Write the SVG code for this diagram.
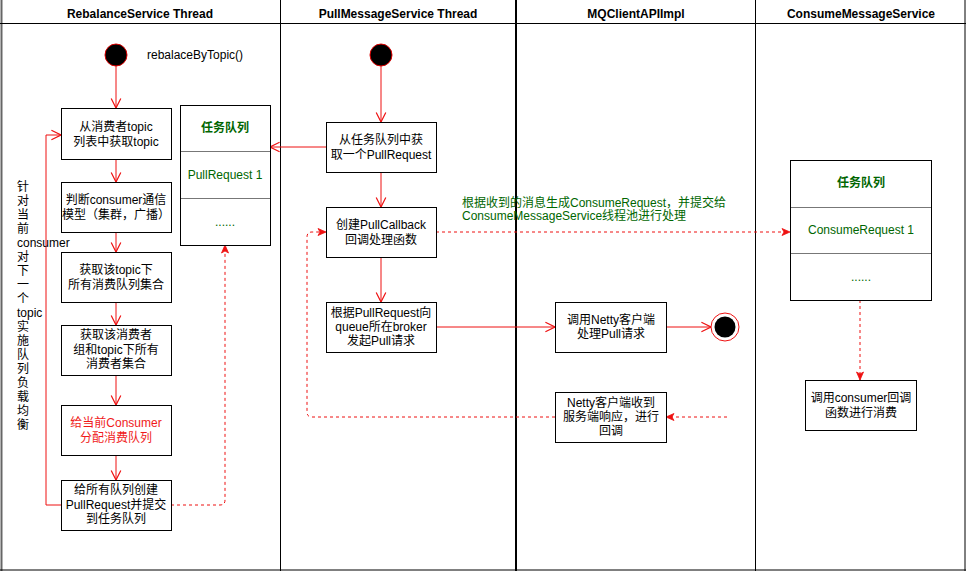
<svg xmlns="http://www.w3.org/2000/svg" width="966" height="571" viewBox="0 0 966 571">
  <style>
    text { font-family: "Liberation Sans", "Noto Sans CJK SC", sans-serif; font-size: 12px; fill: #000; }
    .hd { font-weight: bold; text-anchor: middle; }
    .c { text-anchor: middle; }
    .g { fill: #006600; }
    .b { font-weight: bold; }
    .red { fill: #f01a1a; }
    .box { fill: #fff; stroke: #000; stroke-width: 1; }
    .sep { stroke: #777; stroke-width: 1; fill: none; }
    .lane { stroke: #000; stroke-width: 1; fill: none; }
    .flow { stroke: #ee1111; stroke-width: 1; fill: none; }
    .dash { stroke: #ee1111; stroke-width: 1; fill: none; stroke-dasharray: 3 3; }
  </style>
  <defs>
    <marker id="open" markerUnits="userSpaceOnUse" markerWidth="12" markerHeight="12" viewBox="0 0 10 10" refX="9" refY="5" orient="auto">
      <path d="M1,1 L9,5 L1,9" fill="none" stroke="#ee1111" stroke-width="1"/>
    </marker>
    <marker id="solid" markerUnits="userSpaceOnUse" markerWidth="10" markerHeight="10" viewBox="0 0 10 10" refX="9" refY="5" orient="auto">
      <path d="M1,1.5 L9,5 L1,8.5 L3,5 z" fill="#ee1111" stroke="#ee1111" stroke-width="0.8"/>
    </marker>
  </defs>

  <rect width="966" height="571" fill="#fff"/>

  <!-- swimlanes -->
  <g id="lanes">
    <line x1="1.5" y1="0" x2="1.5" y2="571" stroke="#666" stroke-width="2"/>
    <line class="lane" x1="965" y1="0" x2="965" y2="571"/>
    <line class="lane" x1="0" y1="570" x2="966" y2="570"/>
    <line class="lane" x1="0" y1="23.5" x2="966" y2="23.5"/>
    <line class="lane" x1="280.5" y1="0" x2="280.5" y2="571"/>
    <line x1="516" y1="0" x2="516" y2="571" stroke="#000" stroke-width="2"/>
    <line class="lane" x1="755.5" y1="0" x2="755.5" y2="571"/>
    <text class="hd" x="140" y="18">RebalanceService Thread</text>
    <text class="hd" x="398" y="18">PullMessageService Thread</text>
    <text class="hd" x="636" y="18">MQClientAPIImpl</text>
    <text class="hd" x="861" y="18">ConsumeMessageService</text>
  </g>

  <!-- connectors -->
  <g id="connectors">
    <line class="flow" x1="116" y1="66" x2="116" y2="108" marker-end="url(#open)"/>
    <line class="flow" x1="116" y1="160" x2="116" y2="182" marker-end="url(#open)"/>
    <line class="flow" x1="116" y1="232" x2="116" y2="252" marker-end="url(#open)"/>
    <line class="flow" x1="116" y1="302" x2="116" y2="325" marker-end="url(#open)"/>
    <line class="flow" x1="116" y1="375" x2="116" y2="405" marker-end="url(#open)"/>
    <line class="flow" x1="116" y1="455" x2="116" y2="480" marker-end="url(#open)"/>
    <path class="flow" d="M61,505 H46 V135 H61" marker-end="url(#open)"/>
    <path class="dash" d="M171,505 H220 Q225,505 225,500 V245" marker-end="url(#solid)"/>
    <line class="flow" x1="381" y1="66" x2="381" y2="122" marker-end="url(#open)"/>
    <line class="flow" x1="326" y1="147" x2="270" y2="147" marker-end="url(#open)"/>
    <line class="flow" x1="381" y1="172" x2="381" y2="207" marker-end="url(#open)"/>
    <line class="flow" x1="381" y1="257" x2="381" y2="302" marker-end="url(#open)"/>
    <line class="flow" x1="436" y1="327" x2="555" y2="327" marker-end="url(#open)"/>
    <line class="flow" x1="666" y1="327" x2="711" y2="327" marker-end="url(#open)"/>
    <line class="dash" x1="436" y1="232" x2="790" y2="232" marker-end="url(#solid)"/>
    <line class="dash" x1="727" y1="417" x2="666" y2="417" marker-end="url(#solid)"/>
    <path class="dash" d="M555,417 H312 Q307,417 307,412 V237 Q307,232 312,232 H326" marker-end="url(#solid)"/>
    <line class="dash" x1="860" y1="300" x2="860" y2="380" marker-end="url(#solid)"/>
    <text class="g" x="462" y="207">根据收到的消息生成ConsumeRequest，并提交给</text>
    <text class="g" x="462" y="220">ConsumeMessageService线程池进行处理</text>
  </g>

  <!-- RebalanceService lane -->
  <g id="start-rebalance">
    <circle cx="116" cy="55" r="11" fill="#000" stroke="#d00" stroke-width="1"/>
    <text x="147" y="59">rebalaceByTopic()</text>
  </g>
  <g id="loop-label">
    <text x="17" y="191">针</text>
    <text x="17" y="205">对</text>
    <text x="17" y="219">当</text>
    <text x="17" y="233">前</text>
    <text x="17" y="247">consumer</text>
    <text x="17" y="261">对</text>
    <text x="17" y="275">下</text>
    <text x="17" y="289">一</text>
    <text x="17" y="303">个</text>
    <text x="17" y="317">topic</text>
    <text x="17" y="331">实</text>
    <text x="17" y="345">施</text>
    <text x="17" y="359">队</text>
    <text x="17" y="373">列</text>
    <text x="17" y="387">负</text>
    <text x="17" y="401">载</text>
    <text x="17" y="415">均</text>
    <text x="17" y="429">衡</text>
  </g>
  <g id="get-topics">
    <rect class="box" x="61.5" y="108.5" width="110" height="51"/>
    <text class="c" x="116" y="131">从消费者topic</text>
    <text class="c" x="116" y="146">列表中获取topic</text>
  </g>
  <g id="check-model">
    <rect class="box" x="61.5" y="182.5" width="110" height="50"/>
    <text class="c" x="116" y="204">判断consumer通信</text>
    <text class="c" x="116" y="219">模型（集群，广播）</text>
  </g>
  <g id="get-queues">
    <rect class="box" x="61.5" y="252.5" width="110" height="50"/>
    <text class="c" x="116" y="274">获取该topic下</text>
    <text class="c" x="116" y="289">所有消费队列集合</text>
  </g>
  <g id="get-consumers">
    <rect class="box" x="61.5" y="325.5" width="110" height="50"/>
    <text class="c" x="116" y="339">获取该消费者</text>
    <text class="c" x="116" y="354">组和topic下所有</text>
    <text class="c" x="116" y="368">消费者集合</text>
  </g>
  <g id="allocate">
    <rect class="box" x="61.5" y="405.5" width="110" height="50"/>
    <text class="c red" x="116" y="427">给当前Consumer</text>
    <text class="c red" x="116" y="442">分配消费队列</text>
  </g>
  <g id="create-requests">
    <rect class="box" x="61.5" y="480.5" width="110" height="50"/>
    <text class="c" x="116" y="494">给所有队列创建</text>
    <text class="c" x="116" y="509">PullRequest并提交</text>
    <text class="c" x="116" y="523">到任务队列</text>
  </g>
  <g id="pull-queue">
    <rect class="box" x="180.5" y="105.5" width="90" height="140"/>
    <line class="sep" x1="181" y1="151.5" x2="270" y2="151.5"/>
    <line class="sep" x1="181" y1="198.5" x2="270" y2="198.5"/>
    <text class="c g b" x="225" y="132">任务队列</text>
    <text class="c g" x="225" y="179">PullRequest 1</text>
    <text class="c g" x="225" y="226">......</text>
  </g>

  <!-- PullMessageService lane -->
  <g id="start-pull">
    <circle cx="381" cy="55" r="11" fill="#000" stroke="#d00" stroke-width="1"/>
  </g>
  <g id="take-request">
    <rect class="box" x="326.5" y="122.5" width="110" height="50"/>
    <text class="c" x="381" y="144">从任务队列中获</text>
    <text class="c" x="381" y="159">取一个PullRequest</text>
  </g>
  <g id="create-callback">
    <rect class="box" x="326.5" y="207.5" width="110" height="50"/>
    <text class="c" x="381" y="229">创建PullCallback</text>
    <text class="c" x="381" y="244">回调处理函数</text>
  </g>
  <g id="send-pull">
    <rect class="box" x="326.5" y="302.5" width="110" height="50"/>
    <text class="c" x="381" y="317">根据PullRequest向</text>
    <text class="c" x="381" y="331">queue所在broker</text>
    <text class="c" x="381" y="345">发起Pull请求</text>
  </g>

  <!-- MQClientAPIImpl lane -->
  <g id="netty-pull">
    <rect class="box" x="555.5" y="302.5" width="111" height="50"/>
    <text class="c" x="611" y="324">调用Netty客户端</text>
    <text class="c" x="611" y="338">处理Pull请求</text>
  </g>
  <g id="end">
    <circle cx="725" cy="327" r="14" fill="#fff" stroke="#ee1111" stroke-width="1"/>
    <circle cx="725" cy="327" r="10.5" fill="#000"/>
  </g>
  <g id="netty-response">
    <rect class="box" x="555.5" y="392.5" width="111" height="50"/>
    <text class="c" x="611" y="407">Netty客户端收到</text>
    <text class="c" x="611" y="421">服务端响应，进行</text>
    <text class="c" x="611" y="435">回调</text>
  </g>

  <!-- ConsumeMessageService lane -->
  <g id="consume-queue">
    <rect class="box" x="790.5" y="160.5" width="141" height="140"/>
    <line class="sep" x1="791" y1="207.5" x2="931" y2="207.5"/>
    <line class="sep" x1="791" y1="253.5" x2="931" y2="253.5"/>
    <text class="c g b" x="861" y="187">任务队列</text>
    <text class="c g" x="861" y="234">ConsumeRequest 1</text>
    <text class="c g" x="861" y="281">......</text>
  </g>
  <g id="consume">
    <rect class="box" x="805.5" y="380.5" width="111" height="50"/>
    <text class="c" x="861" y="402">调用consumer回调</text>
    <text class="c" x="861" y="417">函数进行消费</text>
  </g>
</svg>
